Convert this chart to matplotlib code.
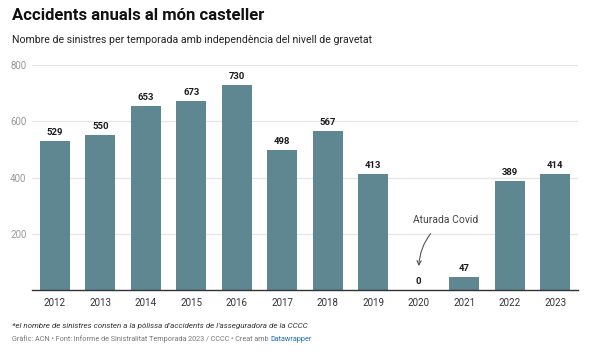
import matplotlib.pyplot as plt

years = ['2012', '2013', '2014', '2015', '2016', '2017', '2018', '2019', '2020', '2021', '2022', '2023']
accidents = [529, 550, 653, 673, 730, 498, 567, 413, 0, 47, 389, 414]
yticks = [200, 400, 600, 800]

bar_color = '#5f8792'
plt.rcParams['font.family'] = ['Roboto', 'DejaVu Sans']

fig = plt.figure(figsize=(5.89, 3.54), dpi=100)
ax = fig.add_axes([32 / 589, 64 / 354, 546 / 589, 225 / 354])

x = list(range(len(years)))
ax.bar(x, accidents, width=0.66, color=bar_color, zorder=2)
for xi, v in zip(x, accidents):
    ax.text(xi, v + 14, str(v), ha='center', va='bottom', fontsize=6.8,
            fontweight='bold', color='#1a1a1a')

ax.set_xlim(-0.5, len(years) - 0.5)
ax.set_ylim(0, 800)
ax.set_xticks(x)
ax.set_xticklabels(years, fontsize=7, color='#333333')
ax.set_yticks(yticks)
ax.set_yticklabels([str(t) for t in yticks], fontsize=7, color='#999999')
ax.tick_params(axis='both', length=0)
ax.tick_params(axis='y', pad=4)
ax.tick_params(axis='x', pad=6)
ax.grid(axis='y', color='#e5e5e5', linewidth=0.9, zorder=0)
for s in ['top', 'right', 'left']:
    ax.spines[s].set_visible(False)
ax.spines['bottom'].set_color('#333333')
ax.spines['bottom'].set_linewidth(1)

ax.annotate('Aturada Covid', xy=(8, 85), xytext=(8.6, 250),
            fontsize=7.5, color='#444444', ha='center', va='center',
            arrowprops=dict(arrowstyle='->', color='#555555', lw=0.8,
                            connectionstyle='arc3,rad=0.25',
                            shrinkA=6, shrinkB=0))

fig.text(12 / 589, 1 - 16 / 354, 'Accidents anuals al món casteller',
         fontsize=12, fontweight='bold', va='center', color='#111111')
fig.text(12 / 589, 1 - 40 / 354,
         'Nombre de sinistres per temporada amb independència del nivell de gravetat',
         fontsize=7.6, va='center', color='#222222')
fig.text(12 / 589, 1 - 328 / 354,
         "*el nombre de sinistres consten a la pòlissa d'accidents de l'asseguradora de la CCCC",
         fontsize=5.8, style='italic', va='baseline', color='#333333')
src = fig.text(12 / 589, 1 - 341 / 354,
               'Gràfic: ACN • Font: Informe de Sinistralitat Temporada 2023 / CCCC • Creat amb ',
               fontsize=5.2, va='baseline', color='#777777')
fig.canvas.draw()
bb = src.get_window_extent()
fig.text(bb.x1 / fig.bbox.width, 1 - 341 / 354, 'Datawrapper',
         fontsize=5.2, va='baseline', color='#1d6fb8')

fig.savefig('out.png', dpi=100)
